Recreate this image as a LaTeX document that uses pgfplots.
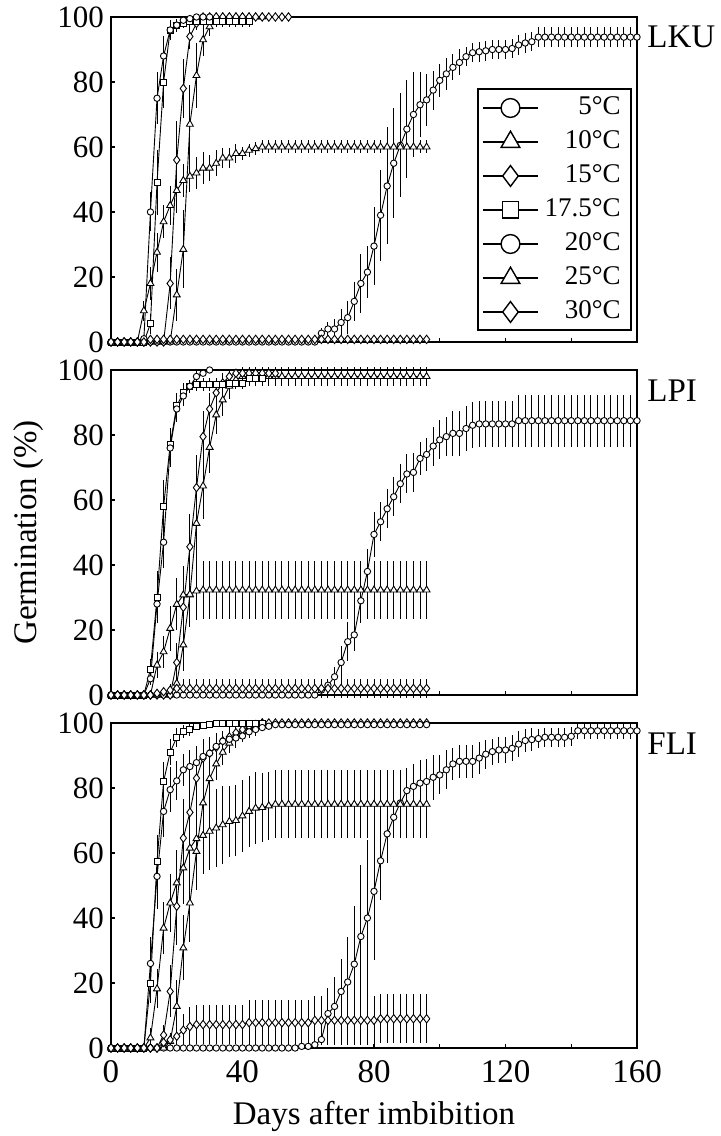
\documentclass[border=0pt]{standalone}
\usepackage{fontspec}
\setmainfont{Liberation Serif}
\usepackage{pgfplots}
\pgfplotsset{compat=1.18}

% one px of the reference = 0.5pt
\pgfplotsset{
  ser/.style={black, line width=0.45pt, mark size=1.6pt,
    mark options={fill=white, solid, line width=0.45pt},
    error bars/y dir=both, error bars/y explicit,
    error bars/error mark=none,
    error bars/error bar style={line width=0.5pt}},
  gc/.style={ser, mark=*},
  gt/.style={ser, mark=triangle*, mark size=2pt},
  gd/.style={ser, mark=diamond*, mark size=2.1pt},
  gs/.style={ser, mark=square*, mark size=1.5pt},
  panel/.style={scale only axis, width=263pt, height=162.5pt,
    xmin=0, xmax=160, ymin=0, ymax=100,
    xtick={0,40,...,160}, minor xtick={20,60,100,140},
    ytick={0,20,...,100}, tick pos=left, tick align=inside,
    major tick length=2.2pt, minor tick length=2.2pt,
    axis line style={line width=1pt},
    tick style={line width=0.7pt, black},
    clip=false,
    yticklabel style={font=\fontsize{15.5}{17}\selectfont, inner ysep=0pt},
    xticklabel style={font=\fontsize{16.5}{18}\selectfont, yshift=-2.5pt},
    /pgf/number format/assume math mode=true},
}
\tikzset{lab/.style={anchor=north west, inner sep=0pt, xshift=5pt, yshift=-4.5pt,
    font=\fontsize{16.5}{18}\selectfont}}

\begin{document}
\begin{tikzpicture}
\useasboundingbox (0,0) rectangle (360pt,568pt);

% ---------------- LKU ----------------
\begin{axis}[panel, at={(55.5pt,559.5pt)}, anchor=north west,
  xticklabels={},
  legend style={at={(0.99,0.78)}, anchor=north east, draw=black, line width=1pt,
    fill=white, font=\fontsize{13.5}{15}\selectfont, row sep=4.5pt,
    inner xsep=2pt, inner ysep=3pt,
    nodes={inner xsep=3pt, inner ysep=0pt, text height=9.5pt, text depth=3pt}},
  legend cell align=right,
  legend image code/.code={\draw[mark repeat=2, mark phase=2, #1]
    plot coordinates {(0pt,0pt) (13.75pt,0pt) (27.5pt,0pt)};},
]
\addlegendimage{black, line width=0.7pt, mark=*, mark size=4.7pt, mark options={fill=white}}
\addlegendentry{5°C}
\addlegendimage{black, line width=0.7pt, mark=triangle*, mark size=5.4pt, mark options={fill=white}}
\addlegendentry{10°C}
\addlegendimage{black, line width=0.7pt, mark=diamond*, mark size=5.2pt, mark options={fill=white}}
\addlegendentry{15°C}
\addlegendimage{black, line width=0.7pt, mark=square*, mark size=4.1pt, mark options={fill=white}}
\addlegendentry{17.5°C}
\addlegendimage{black, line width=0.7pt, mark=*, mark size=4.7pt, mark options={fill=white}}
\addlegendentry{20°C}
\addlegendimage{black, line width=0.7pt, mark=triangle*, mark size=5.4pt, mark options={fill=white}}
\addlegendentry{25°C}
\addlegendimage{black, line width=0.7pt, mark=diamond*, mark size=5.2pt, mark options={fill=white}}
\addlegendentry{30°C}

% 5 C
\addplot[gc, forget plot] table[row sep=\\, y error index=2] {
0 0 0\\2 0 0\\4 0 0\\6 0 0\\8 0 0\\10 0 0\\12 0 0\\14 0 0\\16 0 0\\18 0 0\\20 0 0\\
22 0 0\\24 0 0\\26 0 0\\28 0 0\\30 0 0\\32 0 0\\34 0 0\\36 0 0\\38 0 0\\40 0 0\\
42 0 0\\44 0 0\\46 0 0\\48 0 0\\50 0 0\\52 0 0\\54 0 0\\56 0 0\\58 0 0\\60 0 0\\62 0 0\\
64 2.7 1.5\\66 4 2\\68 4 3\\70 6 4\\72 7.5 5\\74 12.5 6\\76 18 9\\78 21.5 8\\80 29.5 12\\
82 39 14\\84 48 18\\86 55 17\\88 60.5 16\\90 65.5 15\\92 70 13\\94 73 10\\96 74.5 8\\
98 77.5 6\\100 80.5 5\\102 82.5 5\\104 84.5 4\\106 86 4\\108 87.8 3\\110 89 3\\
112 89.3 3\\114 89.6 3\\116 90 3\\118 90 3\\120 90 3\\122 90.3 3\\124 91.4 3\\126 92 3\\
128 92.4 3\\130 93.8 3\\132 93.8 3\\134 93.8 3\\136 93.8 3\\138 93.8 3\\140 93.8 3\\
142 93.8 3\\144 93.8 3\\146 93.8 3\\148 93.8 3\\150 93.8 3\\152 93.8 3\\154 93.8 3\\
156 93.8 3\\158 93.8 3\\160 93.8 3\\};
% 10 C
\addplot[gt, forget plot] table[row sep=\\, y error index=2] {
0 0 0\\2 0 0\\4 0 0\\6 0 0\\8 0 0\\10 0 0\\12 0 0\\14 0 0\\16 0 0\\18 0 0\\
20 14.5 8\\22 28.5 12\\24 67 12\\26 82 10\\28 93 5\\30 97 3\\32 100 0\\34 100 0\\
36 100 0\\38 100 0\\40 100 0\\42 100 0\\44 100 0\\46 100 0\\};
% 15 C
\addplot[gd, forget plot] table[row sep=\\, y error index=2] {
0 0 0\\2 0 0\\4 0 0\\6 0 0\\8 0 0\\10 0 0\\12 0 0\\14 0 0\\16 0 0\\
18 18 8\\20 56 12\\22 78 9\\24 94 4\\26 98 2\\28 100 0\\30 100 0\\32 100 0\\34 100 0\\
36 100 0\\38 100 0\\40 100 0\\42 100 0\\44 100 0\\46 100 0\\48 100 0\\50 100 0\\
52 100 0\\54 100 0\\};
% 17.5 C
\addplot[gs, forget plot] table[row sep=\\, y error index=2] {
0 0 0\\2 0 0\\4 0 0\\6 0 0\\8 0 0\\10 0 0\\
12 5.6 3\\14 49 10\\16 80 8\\18 96 3\\20 97.5 2\\22 98 1.5\\24 98.5 1.5\\26 98.5 1.5\\
28 98.5 1.5\\30 98.5 1.5\\32 98.5 1.5\\34 98.5 1.5\\36 98.5 1.5\\38 98.5 1.5\\
40 98.5 1.5\\42 98.5 1.5\\};
% 20 C
\addplot[gc, forget plot] table[row sep=\\, y error index=2] {
0 0 0\\2 0 0\\4 0 0\\6 0 0\\8 0 0\\
10 1 1\\12 40 6\\14 75 8\\16 88 6\\18 96 3\\20 97.5 2\\22 99 1\\24 99.5 0.5\\
26 100 0\\28 100 0\\30 100 0\\};
% 25 C
\addplot[gt, forget plot] table[row sep=\\, y error index=2] {
0 0 0\\2 0 0\\4 0 0\\6 0 0\\8 0 0\\
10 9.6 3\\12 18 5\\14 27.6 6\\16 37 5\\18 42 6\\20 46.6 7\\22 49.7 5\\24 51 5\\
26 52 5\\28 53.5 5\\30 53.5 4\\32 55 4\\34 56.6 3\\36 56.6 3\\38 58 3\\40 58 2\\
42 59 2\\44 59.5 2\\46 60 2\\48 60 2\\50 60 2\\52 60 2\\54 60 2\\56 60 2\\58 60 2\\
60 60 2\\62 60 2\\64 60 2\\66 60 2\\68 60 2\\70 60 2\\72 60 2\\74 60 2\\76 60 2\\
78 60 2\\80 60 2\\82 60 2\\84 60 2\\86 60 2\\88 60 2\\90 60 2\\92 60 2\\94 60 2\\96 60 2\\};
% 30 C
\addplot[gd, forget plot] table[row sep=\\, y error index=2] {
0 0 0\\2 0 0\\4 0 0\\6 0 0\\8 0 0\\10 0 0\\
12 0.8 0.8\\14 0.8 0.8\\16 0.8 0.8\\18 0.8 0.8\\20 0.8 0.8\\22 0.8 0.8\\24 0.8 0.8\\
26 0.8 0.8\\28 0.8 0.8\\30 0.8 0.8\\32 0.8 0.8\\34 0.8 0.8\\36 0.8 0.8\\38 0.8 0.8\\
40 0.8 0.8\\42 0.8 0.8\\44 0.8 0.8\\46 0.8 0.8\\48 0.8 0.8\\50 0.8 0.8\\52 0.8 0.8\\
54 0.8 0.8\\56 0.8 0.8\\58 0.8 0.8\\60 0.8 0.8\\62 0.8 0.8\\64 0.8 0.8\\66 0.8 0.8\\
68 0.8 0.8\\70 0.8 0.8\\72 0.8 0.8\\74 0.8 0.8\\76 0.8 0.8\\78 0.8 0.8\\80 0.8 0.8\\
82 0.8 0.8\\84 0.8 0.8\\86 0.8 0.8\\88 0.8 0.8\\90 0.8 0.8\\92 0.8 0.8\\94 0.8 0.8\\96 0.8 0.8\\};
\node[lab] at (rel axis cs:1,1) {LKU};
\end{axis}

% ---------------- LPI ----------------
\begin{axis}[panel, at={(55.5pt,383pt)}, anchor=north west,
  xticklabels={},
  ylabel={Germination (\%)},
  ylabel style={font=\fontsize{16.5}{18}\selectfont},
]
% 5 C
\addplot[gc, forget plot] table[row sep=\\, y error index=2] {
0 0 0\\2 0 0\\4 0 0\\6 0 0\\8 0 0\\10 0 0\\12 0 0\\14 0 0\\16 0 0\\18 0 0\\20 0 0\\
22 0 0\\24 0 0\\26 0 0\\28 0 0\\30 0 0\\32 0 0\\34 0 0\\36 0 0\\38 0 0\\40 0 0\\
42 0 0\\44 0 0\\46 0 0\\48 0 0\\50 0 0\\52 0 0\\54 0 0\\56 0 0\\58 0 0\\60 0 0\\62 0 0\\
64 1.5 1\\66 3 2\\68 5.6 3\\70 10 5\\72 16.4 6\\74 18.5 5\\76 29 7\\78 38 7\\80 49.4 7\\
82 53.3 6\\84 57.3 6\\86 61 6\\88 65 6\\90 68 6\\92 68.5 6\\94 72.8 5\\96 74 5\\
98 76.6 6\\100 78.5 6\\102 79.5 6\\104 80.5 7\\106 80.5 7\\108 82 7\\110 83 7\\
112 83.4 7\\114 83.4 7\\116 83.4 7\\118 83.4 7\\120 83.4 7\\122 83.4 7\\124 84.4 8\\
126 84.4 8\\128 84.4 8\\130 84.4 8\\132 84.4 8\\134 84.4 8\\136 84.4 8\\138 84.4 8\\
140 84.4 8\\142 84.4 8\\144 84.4 8\\146 84.4 8\\148 84.4 8\\150 84.4 8\\152 84.4 8\\
154 84.4 8\\156 84.4 8\\158 84.4 8\\160 84.4 8\\};
% 10 C
\addplot[gt, forget plot] table[row sep=\\, y error index=2] {
0 0 0\\2 0 0\\4 0 0\\6 0 0\\8 0 0\\10 0 0\\12 0 0\\14 0 0\\16 0 0\\18 0 0\\
20 3.6 3\\22 15.4 8\\24 30.8 10\\26 52.8 12\\28 64.3 10\\30 76.2 8\\32 86.2 6\\
34 90.8 5\\36 95 4\\38 97 3\\40 98 3\\42 98 3\\44 98 3\\46 98 3\\48 98 3\\50 98 3\\
52 98 3\\54 98 3\\56 98 3\\58 98 3\\60 98 3\\62 98 3\\64 98 3\\66 98 3\\68 98 3\\
70 98 3\\72 98 3\\74 98 3\\76 98 3\\78 98 3\\80 98 3\\82 98 3\\84 98 3\\86 98 3\\
88 98 3\\90 98 3\\92 98 3\\94 98 3\\96 98 3\\};
% 15 C
\addplot[gd, forget plot] table[row sep=\\, y error index=2] {
0 0 0\\2 0 0\\4 0 0\\6 0 0\\8 0 0\\10 0 0\\12 0 0\\14 0 0\\16 0 0\\18 0 0\\
20 10 6\\22 27 10\\24 45.6 10\\26 63.8 10\\28 79.5 8\\30 88 5\\32 93 4\\34 96 3\\
36 98 2\\38 99 1\\40 99 1\\42 99 1\\44 99 1\\46 99 1\\48 99 1\\50 99 1\\};
% 17.5 C
\addplot[gs, forget plot] table[row sep=\\, y error index=2] {
0 0 0\\2 0 0\\4 0 0\\6 0 0\\8 0 0\\10 0 0\\
12 8 3\\14 30 8\\16 58 8\\18 77 5\\20 89 4\\22 93 3\\24 95 2\\26 95.5 2\\28 95.5 2\\
30 95.5 2\\32 95.5 2\\34 95.5 2\\36 96 2\\38 96 2\\40 96 2\\42 97.5 2\\44 97.5 2\\46 97.5 2\\};
% 20 C
\addplot[gc, forget plot] table[row sep=\\, y error index=2] {
0 0 0\\2 0 0\\4 0 0\\6 0 0\\8 0 0\\10 0 0\\
12 5 2\\14 28 6\\16 47 8\\18 76 6\\20 88 4\\22 92 3\\24 95 2\\26 98 2\\28 99 1\\30 100 0\\};
% 25 C
\addplot[gt, forget plot] table[row sep=\\, y error index=2] {
0 0 0\\2 0 0\\4 0 0\\6 0 0\\8 0 0\\10 0 0\\12 0 0\\
14 9.2 4\\16 13.3 5\\18 20.5 7\\20 27.9 8\\22 30.8 9\\24 31 9\\26 32 9\\28 32.3 9\\
30 32.3 9\\32 32.3 9\\34 32.3 9\\36 32.3 9\\38 32.3 9\\40 32.3 9\\42 32.3 9\\
44 32.3 9\\46 32.3 9\\48 32.3 9\\50 32.3 9\\52 32.3 9\\54 32.3 9\\56 32.3 9\\
58 32.3 9\\60 32.3 9\\62 32.3 9\\64 32.3 9\\66 32.3 9\\68 32.3 9\\70 32.3 9\\
72 32.3 9\\74 32.3 9\\76 32.3 9\\78 32.3 9\\80 32.3 9\\82 32.3 9\\84 32.3 9\\
86 32.3 9\\88 32.3 9\\90 32.3 9\\92 32.3 9\\94 32.3 9\\96 32.3 9\\};
% 30 C
\addplot[gd, forget plot] table[row sep=\\, y error index=2] {
0 0 0\\2 0 0\\4 0 0\\6 0 0\\8 0 0\\10 0 0\\12 0 0\\
14 0.5 0.5\\16 1 1\\18 1.5 2\\20 2 3\\22 2 3\\24 2 3\\26 2 3\\28 2 3\\30 2 3\\
32 2 3\\34 2 3\\36 2 3\\38 2 3\\40 2 3\\42 2 3\\44 2 3\\46 2 3\\48 2 3\\50 2 3\\
52 2 3\\54 2 3\\56 2 3\\58 2 3\\60 2 3\\62 2 3\\64 2 3\\66 2 3\\68 2 3\\70 2 3\\
72 2 3\\74 2 3\\76 2 3\\78 2 3\\80 2 3\\82 2 3\\84 2 3\\86 2 3\\88 2 3\\90 2 3\\
92 2 3\\94 2 3\\96 2 3\\};
\node[lab] at (rel axis cs:1,1) {LPI};
\end{axis}

% ---------------- FLI ----------------
\begin{axis}[panel, at={(55.5pt,206.5pt)}, anchor=north west,
  xlabel={Days after imbibition},
  xlabel style={font=\fontsize{16.5}{18}\selectfont, yshift=-2.5pt},
]
% 5 C
\addplot[gc, forget plot] table[row sep=\\, y error index=2] {
0 0 0\\2 0 0\\4 0 0\\6 0 0\\8 0 0\\10 0 0\\12 0 0\\14 0 0\\16 0 0\\18 0 0\\20 0 0\\
22 0 0\\24 0 0\\26 0 0\\28 0 0\\30 0 0\\32 0 0\\34 0 0\\36 0 0\\38 0 0\\40 0 0\\
42 0 0\\44 0 0\\46 0 0\\48 0 0\\50 0 0\\52 0 0\\54 0 0\\56 0 0\\58 0.5 0\\60 0.5 0\\
62 1 0.5\\64 2.6 1.5\\66 10.6 8\\68 12.8 9\\70 17.4 10\\72 20.3 14\\74 25.8 18\\
76 34.3 22\\78 40 24\\80 48.2 21\\82 57.6 12\\84 65.9 9\\86 71 6\\88 75.4 6\\
90 79.2 7\\92 80.5 7\\94 81.5 7\\96 82 7\\98 83.3 7\\100 84 6\\102 85.6 6\\
104 87.4 5\\106 88.2 5\\108 88.2 5\\110 88.2 5\\112 89.2 5\\114 90.4 4.5\\
116 91.2 4\\118 91.7 4\\120 91.7 4\\122 92.2 4\\124 93.5 4\\126 94.6 3.5\\
128 94.9 3.5\\130 95.2 3\\132 95.6 3\\134 95.6 3\\136 95.6 3\\138 95.6 3\\140 95.9 3\\
142 97.6 2.5\\144 97.6 2.5\\146 97.6 2.5\\148 97.6 2.5\\150 97.6 2.5\\152 97.6 2.5\\
154 97.6 2.5\\156 97.6 2.5\\158 97.6 2.5\\160 97.6 2.5\\};
% 10 C
\addplot[gt, forget plot] table[row sep=\\, y error index=2] {
0 0 0\\2 0 0\\4 0 0\\6 0 0\\8 0 0\\10 0 0\\12 0 0\\14 0 0\\16 0 0\\
18 2 2\\20 12.8 8\\22 30.8 10\\24 44.6 12\\26 60.5 12\\28 75.4 8\\30 82.9 6\\
32 87.4 5\\34 91 4\\36 93.8 3\\38 96 3\\40 97.5 2\\42 98.5 1\\44 99 1\\46 100 0\\};
% 15 C
\addplot[gd, forget plot] table[row sep=\\, y error index=2] {
0 0 0\\2 0 0\\4 0 0\\6 0 0\\8 0 0\\10 0 0\\12 0 0\\14 0 0\\
16 4 3\\18 17.4 8\\20 43.6 12\\22 64.6 12\\24 72.5 10\\26 83 8\\28 89.2 6\\
30 90.7 5\\32 92.5 4\\34 94.5 3\\36 95.7 3\\38 97 2\\40 98 2\\42 99 1\\44 99.5 0.5\\
46 100 0\\48 100 0\\50 100 0\\52 100 0\\54 100 0\\56 100 0\\58 100 0\\60 100 0\\
62 100 0\\64 100 0\\66 100 0\\68 100 0\\70 100 0\\72 100 0\\74 100 0\\76 100 0\\
78 100 0\\80 100 0\\82 100 0\\84 100 0\\86 100 0\\88 100 0\\90 100 0\\92 100 0\\
94 100 0\\96 100 0\\};
% 17.5 C
\addplot[gs, forget plot] table[row sep=\\, y error index=2] {
0 0 0\\2 0 0\\4 0 0\\6 0 0\\8 0 0\\10 0 0\\
12 20 6\\14 57.4 8\\16 82 6\\18 91 4\\20 95.6 3\\22 97.4 2\\24 98 2\\26 99 1\\
28 99.3 0.5\\30 99.6 0.5\\32 100 0\\34 100 0\\36 100 0\\38 100 0\\40 100 0\\
42 100 0\\44 100 0\\46 100 0\\};
% 20 C
\addplot[gc, forget plot] table[row sep=\\, y error index=2] {
0 0 0\\2 0 0\\4 0 0\\6 0 0\\8 0 0\\10 0 0\\
12 26 8\\14 52.8 10\\16 72.8 8\\18 79.5 7\\20 82.2 6\\22 85.6 5\\24 86.6 5\\
26 87.8 5\\28 89.7 5\\30 90.7 4\\32 92.8 4\\34 94.4 3\\36 95 3\\38 95.4 3\\40 96 2\\
42 97.3 2\\44 98 2\\46 98.6 1\\48 99 1\\50 99.5 0.5\\52 99.5 0.5\\54 99.5 0.5\\
56 99.5 0.5\\58 99.5 0.5\\60 99.5 0.5\\62 99.5 0.5\\64 99.5 0.5\\66 99.5 0.5\\
68 99.5 0.5\\70 99.5 0.5\\72 99.5 0.5\\74 99.5 0.5\\76 99.5 0.5\\78 99.5 0.5\\
80 99.5 0.5\\82 99.5 0.5\\84 99.5 0.5\\86 99.5 0.5\\88 99.5 0.5\\90 99.5 0.5\\
92 99.5 0.5\\94 99.5 0.5\\96 99.5 0.5\\};
% 25 C
\addplot[gt, forget plot] table[row sep=\\, y error index=2] {
0 0 0\\2 0 0\\4 0 0\\6 0 0\\8 0 0\\10 0 0\\
12 3.1 3\\14 18.2 6\\16 36.9 8\\18 44.6 9\\20 50.8 10\\22 55.4 11\\24 61.5 12\\
26 64.4 12\\28 65.4 12\\30 66.7 12\\32 67.7 12\\34 68.7 12\\36 69.7 11\\38 70 11\\
40 71.4 11\\42 72.8 11\\44 73.8 11\\46 74 10.5\\48 74.5 10.5\\50 75 10.5\\
52 75 10.5\\54 75 10.5\\56 75 10.5\\58 75 10.5\\60 75 10.5\\62 75 10.5\\64 75 10.5\\
66 75 10.5\\68 75 10.5\\70 75 10.5\\72 75 10.5\\74 75 10.5\\76 75 10.5\\78 75 10.5\\
80 75 10.5\\82 75 10.5\\84 75 10.5\\86 75 10.5\\88 75 10.5\\90 75 10.5\\92 75 10.5\\
94 75 10.5\\96 75 10.5\\};
% 30 C
\addplot[gd, forget plot] table[row sep=\\, y error index=2] {
0 0 0\\2 0 0\\4 0 0\\6 0 0\\8 0 0\\10 0 0\\12 0 0\\14 0 0\\
16 1.7 1\\18 2.5 2\\20 3.6 4\\22 5.5 5\\24 6.6 6\\26 7.2 6\\28 7.2 6\\30 7.2 6\\
32 7.2 6\\34 7.2 6\\36 7.2 6\\38 7.2 6\\40 7.2 6\\42 7.8 7\\44 7.8 7\\46 7.8 7\\
48 7.8 7\\50 7.8 7\\52 7.8 7\\54 7.8 7\\56 7.8 7\\58 7.8 7\\60 7.8 7\\62 8.5 7.5\\
64 8.5 7.5\\66 8.5 7.5\\68 8.5 7.5\\70 8.5 7.5\\72 8.5 7.5\\74 8.5 7.5\\76 8.5 7.5\\
78 8.5 7.5\\80 8.5 7.5\\82 9 7.5\\84 9 7.5\\86 9 7.5\\88 9 7.5\\90 9 7.5\\92 9 7.5\\
94 9 7.5\\96 9 7.5\\};
\node[lab] at (rel axis cs:1,1) {FLI};
\end{axis}
\end{tikzpicture}
\end{document}
